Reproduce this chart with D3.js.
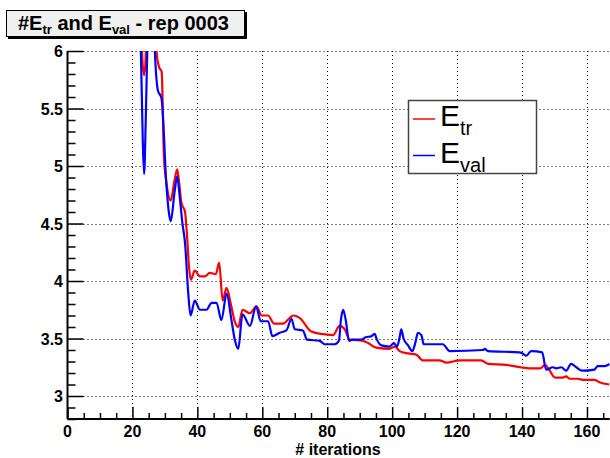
<!DOCTYPE html>
<html>
<head>
<meta charset="utf-8">
<script src="https://cdn.jsdelivr.net/npm/d3@7"></script>
<style>
  body { margin: 0; background: #fff; }
  text { font-family: 'Liberation Sans', Arial, sans-serif; }
</style>
</head>
<body>
<svg id="chart"></svg>
<script>
const width = 610;
const height = 458;

// E_tr (red)
const trIter = [22.5, 23.0, 23.6, 24.1, 24.6, 26.5, 27.4, 28.2, 29, 29.7, 30.5, 31.8, 33, 33.8, 34.4, 35.1, 36.2, 36.7,
  37.5, 38, 39.2, 40.8, 42.3, 43.8, 45.7, 46.7, 47.8, 49, 50.3, 51.6, 52.6, 53.9, 56.2, 58.2, 59.8, 61.8, 63.6, 66.4,
  68.5, 69.5, 71.5, 75.1, 78.2, 81.8, 83.8, 85.4, 86.9, 91, 92.6, 95.1, 99.2, 100.8, 102.3, 104.9, 107.4, 109.5,
  114.6, 116.7, 120.8, 127.4, 129.5, 135.1, 139.5, 142.3, 145.6, 147.1, 148.3, 150.2, 152.5, 153.6, 154.6, 157.2,
  159, 162.3, 163.8, 166.9];
const trVal = [6.7, 5.95, 5.79, 5.95, 6.7, 6.8, 6.0, 5.86, 5.82, 5.08, 4.85, 4.70, 4.88, 4.97, 4.85, 4.68, 4.60, 4.44,
  4.10, 4.01, 4.09, 4.04, 4.04, 4.07, 4.06, 4.16, 3.83, 3.94, 3.80, 3.64, 3.60, 3.75, 3.72, 3.78, 3.70, 3.70, 3.63, 3.63,
  3.68, 3.70, 3.68, 3.56, 3.54, 3.53, 3.61, 3.58, 3.49, 3.48, 3.46, 3.42, 3.41, 3.43, 3.39, 3.37, 3.36, 3.31,
  3.31, 3.29, 3.31, 3.31, 3.28, 3.27, 3.25, 3.24, 3.24, 3.27, 3.23, 3.16, 3.16, 3.17, 3.15, 3.15,
  3.14, 3.14, 3.12, 3.10];

// E_val (blue)
const valIter = [22.0, 22.6, 23.2, 23.6, 24.1, 24.6, 25.5, 26.5, 26.9, 27.9, 28.5, 29, 30.5, 31.2, 31.8, 33, 33.8, 34.5,
  35.4, 36.2, 37.2, 37.9, 39.2, 40.8, 42.8, 44.4, 45.9, 47.4, 49, 50.5, 51.6, 52.6, 53.9, 56.2, 58.1, 59.5, 61.8, 63.1,
  65.4, 67.4, 69, 70, 72.5, 73.8, 77.7, 79.2, 82.3, 83.6, 84.2, 84.9, 85.7, 86.7, 87.9, 90.5, 91.8, 93.6, 94.6, 95.3,
  96.7, 99.2, 100.5, 101.5, 102.3, 102.8, 103.5, 104.9, 106.2, 107.2, 107.9, 109, 109.7, 115.6, 117.7, 128, 128.5,
  129.5, 139.2, 140.2, 141.3, 142.8, 146.2, 147.4, 149.5, 150.5, 152.1, 153.6, 155.1, 156.7, 158.5, 162.3, 163.3,
  165.4, 167];
const valVal = [7.0, 6.0, 5.2, 4.93, 5.4, 6.05, 6.8, 6.3, 6.0, 5.65, 5.62, 5.58, 4.82, 4.6, 4.52, 4.78, 4.91, 4.75,
  4.50, 4.33, 3.89, 3.70, 3.83, 3.75, 3.75, 3.81, 3.81, 3.66, 3.89, 3.66, 3.48, 3.41, 3.71, 3.61, 3.78, 3.65, 3.65, 3.52,
  3.55, 3.57, 3.67, 3.58, 3.57, 3.49, 3.48, 3.45, 3.45, 3.48, 3.66, 3.75, 3.66, 3.48, 3.49, 3.49, 3.51, 3.52, 3.54, 3.49,
  3.44, 3.43, 3.46, 3.43, 3.51, 3.58, 3.50, 3.44, 3.39, 3.47, 3.55, 3.53, 3.45, 3.45, 3.39, 3.40, 3.41,
  3.39, 3.38, 3.37, 3.35, 3.39, 3.38, 3.23, 3.25, 3.24, 3.25, 3.22, 3.28, 3.25, 3.22, 3.23, 3.26,
  3.26, 3.28];

const xTicks = [0, 20, 40, 60, 80, 100, 120, 140, 160];
const yTicks = [3, 3.5, 4, 4.5, 5, 5.5, 6];

const x = d3.scaleLinear().domain([0, 167]).range([67.5, 609.7]);
const y = d3.scaleLinear().domain([2.8, 6]).range([419, 51]);

const svg = d3.select('#chart')
    .attr('width', width)
    .attr('height', height);

svg.append('rect').attr('width', width).attr('height', height).attr('fill', '#fff');

svg.append('clipPath').attr('id', 'frame')
  .append('rect')
    .attr('x', x(0)).attr('y', y(6))
    .attr('width', x(167) - x(0)).attr('height', y(2.8) - y(6));

// grid
const grid = svg.append('g')
    .attr('stroke', '#000')
    .attr('stroke-width', 1)
    .attr('stroke-dasharray', '1,3');
grid.selectAll('line.gx')
  .data(xTicks.filter(d => d > 0))
  .enter().append('line')
    .attr('x1', d => Math.round(x(d)) + 0.5).attr('x2', d => Math.round(x(d)) + 0.5)
    .attr('y1', y(6)).attr('y2', y(2.8));
grid.selectAll('line.gy')
  .data(yTicks)
  .enter().append('line')
    .attr('x1', x(0)).attr('x2', x(167))
    .attr('y1', d => Math.round(y(d)) + 0.5).attr('y2', d => Math.round(y(d)) + 0.5);

// curves
const line = d3.line()
    .x(d => x(d[0]))
    .y(d => y(d[1]))
    .curve(d3.curveMonotoneX);

const plot = svg.append('g').attr('clip-path', 'url(#frame)');
plot.append('path')
    .datum(d3.zip(trIter, trVal))
    .attr('d', line)
    .attr('fill', 'none')
    .attr('stroke', '#ff0000')
    .attr('stroke-width', 2.2);
plot.append('path')
    .datum(d3.zip(valIter, valVal))
    .attr('d', line)
    .attr('fill', 'none')
    .attr('stroke', '#0000ff')
    .attr('stroke-width', 2.2);

// axes
const xAxis = d3.axisBottom(x)
    .tickValues(d3.range(0, 167, 5))
    .tickSize(0)
    .tickFormat('');
const gx = svg.append('g').attr('transform', `translate(0, ${y(2.8)})`).call(xAxis);
gx.select('.domain').remove();
gx.selectAll('.tick line')
    .attr('y2', d => d % 20 === 0 ? -12 : -6)
    .attr('stroke', '#000')
    .attr('stroke-width', 1.5);
svg.selectAll('text.xl')
  .data(xTicks)
  .enter().append('text')
    .attr('x', d => x(d))
    .attr('y', 437)
    .attr('text-anchor', 'middle')
    .attr('font-weight', 'bold')
    .attr('font-size', 16)
    .text(d => d);

const yAxis = d3.axisLeft(y)
    .tickValues(d3.range(28, 61).map(d => d / 10))
    .tickSize(0)
    .tickFormat('');
const gy = svg.append('g').attr('transform', `translate(${x(0)}, 0)`).call(yAxis);
gy.select('.domain').remove();
gy.selectAll('.tick line')
    .attr('x2', d => Math.abs(d * 2 - Math.round(d * 2)) < 1e-6 ? 16 : 8)
    .attr('stroke', '#000')
    .attr('stroke-width', 1.5);
svg.selectAll('text.yl')
  .data(yTicks)
  .enter().append('text')
    .attr('x', 63)
    .attr('y', d => y(d) + 6)
    .attr('text-anchor', 'end')
    .attr('font-weight', 'bold')
    .attr('font-size', 16)
    .text(d => d);

svg.append('line')
    .attr('x1', x(0)).attr('x2', x(167))
    .attr('y1', y(2.8)).attr('y2', y(2.8))
    .attr('stroke', '#000').attr('stroke-width', 2);
svg.append('line')
    .attr('x1', x(0)).attr('x2', x(0))
    .attr('y1', y(6)).attr('y2', y(2.8))
    .attr('stroke', '#000').attr('stroke-width', 2);

svg.append('text')
    .attr('x', 338)
    .attr('y', 455)
    .attr('text-anchor', 'middle')
    .attr('font-weight', 'bold')
    .attr('font-size', 16)
    .text('# iterations');

// title box
svg.append('rect')
    .attr('x', 8).attr('y', 12).attr('width', 239).attr('height', 27)
    .attr('fill', '#000');
svg.append('rect')
    .attr('x', 6.5).attr('y', 10.5).attr('width', 238).attr('height', 26)
    .attr('fill', '#f0f0f0')
    .attr('stroke', '#000').attr('stroke-width', 1);
const title = svg.append('text')
    .attr('x', 18).attr('y', 30)
    .attr('font-weight', 'bold')
    .attr('font-size', 20);
title.append('tspan').text('#E');
title.append('tspan').attr('font-size', 13).attr('dy', 4).text('tr');
title.append('tspan').attr('dy', -4).text(' and E');
title.append('tspan').attr('font-size', 13).attr('dy', 4).text('val');
title.append('tspan').attr('dy', -4).text(' - rep 0003');

// legend
const legendNames = ['tr', 'val'];
const legendColors = ['#ff0000', '#0000ff'];
svg.append('rect')
    .attr('x', 408.5).attr('y', 100.5).attr('width', 128).attr('height', 73)
    .attr('fill', '#fff')
    .attr('stroke', '#444').attr('stroke-width', 1.5);
const leg = svg.selectAll('g.leg')
  .data(legendNames)
  .enter().append('g')
    .attr('transform', (_, i) => `translate(0, ${i * 36.5})`);
leg.append('line')
    .attr('x1', 413).attr('x2', 435)
    .attr('y1', 119).attr('y2', 119)
    .attr('stroke', (_, i) => legendColors[i])
    .attr('stroke-width', 1.5);
const lt = leg.append('text')
    .attr('x', 440).attr('y', 126)
    .attr('font-size', 30);
lt.append('tspan').text('E');
lt.append('tspan').attr('font-size', 20).attr('dy', 9).text(d => d);
</script>
</body>
</html>
